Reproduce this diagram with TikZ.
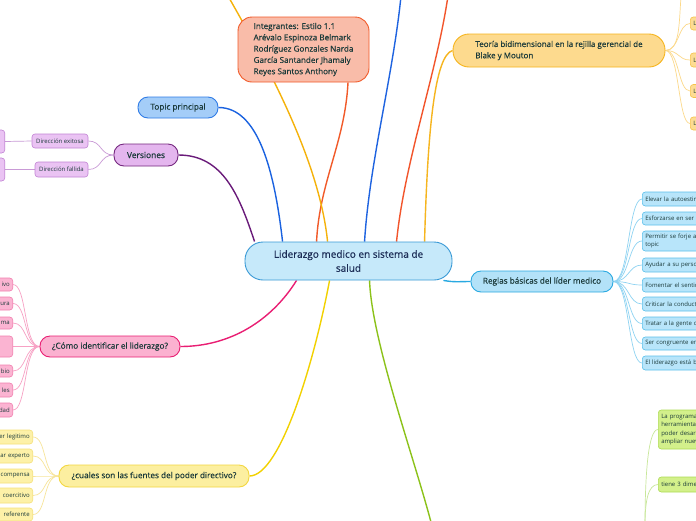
\documentclass[tikz,border=0pt]{standalone}
\usepackage{fontspec}
\setmainfont{Open Sans}
\newfontfamily\semib{Open Sans}[FakeBold=0.5]
\usetikzlibrary{calc,backgrounds}
\definecolor{txt}{HTML}{1B3A3A}
\definecolor{ctxt}{HTML}{1A2B55}
\definecolor{cfill}{HTML}{C6E9FA}
\definecolor{cdraw}{HTML}{3A9AD6}
\definecolor{tfill}{HTML}{A4CDF8}
\definecolor{tdraw}{HTML}{2F7BE6}
\definecolor{tline}{HTML}{1A62E0}
\definecolor{vfill}{HTML}{E4B6EE}
\definecolor{vdraw}{HTML}{75287F}
\definecolor{vline}{HTML}{6A1B7A}
\definecolor{vsfill}{HTML}{EAC3F3}
\definecolor{vsdraw}{HTML}{C283D4}
\definecolor{vsline}{HTML}{C99AD6}
\definecolor{ifill}{HTML}{F9BCA9}
\definecolor{idraw}{HTML}{F15A29}
\definecolor{ofill}{HTML}{FDDA8E}
\definecolor{odraw}{HTML}{F6B51E}
\definecolor{osfill}{HTML}{FDDC93}
\definecolor{osdraw}{HTML}{F6C34A}
\definecolor{osline}{HTML}{FCD98A}
\definecolor{rfill}{HTML}{B3E2F8}
\definecolor{rdraw}{HTML}{29A9E1}
\definecolor{rsfill}{HTML}{B8E5FA}
\definecolor{rsdraw}{HTML}{5BC0EB}
\definecolor{rsline}{HTML}{8ED3F2}
\definecolor{pfill}{HTML}{FBB1D0}
\definecolor{pdraw}{HTML}{E91E73}
\definecolor{psfill}{HTML}{FBB4D2}
\definecolor{psdraw}{HTML}{F27FAF}
\definecolor{psline}{HTML}{F7A1C4}
\definecolor{yfill}{HTML}{FCEFA0}
\definecolor{ydraw}{HTML}{F3D740}
\definecolor{yline}{HTML}{F2D100}
\definecolor{ysfill}{HTML}{FDF1A8}
\definecolor{ysdraw}{HTML}{F5E07A}
\definecolor{ysline}{HTML}{F7E59A}
\definecolor{gline}{HTML}{8CC21A}
\definecolor{gsfill}{HTML}{D3F08B}
\definecolor{gsdraw}{HTML}{AEDC55}
\definecolor{gsline}{HTML}{C8E79A}
\definecolor{topyel}{HTML}{F5B20A}
\definecolor{topblue}{HTML}{1E63E0}
\definecolor{topred}{HTML}{F2552C}
\tikzset{
  mainbox/.style={draw, line width=0.9pt, text=txt, inner sep=0pt, rounded corners=10pt,
    font=\semib\fontsize{8.2}{10}\selectfont},
  subbox/.style={draw, line width=0.6pt, text=txt, inner sep=0pt, rounded corners=3pt,
    font=\fontsize{6}{7.4}\selectfont},
  branch/.style={line width=1.4pt},
  twig/.style={line width=0.7pt},
  leftsub/.style={subbox, anchor=east, minimum width=60pt, text width=54pt, align=right},
  rightsub/.style={subbox, anchor=west, minimum width=90pt, text width=84pt, align=left},
}
\begin{document}
\begin{tikzpicture}[x=1pt,y=-1pt]
\useasboundingbox (0,0) rectangle (696,520);
\clip (0,0) rectangle (696,520);

% ---------- nodes ----------
\node[mainbox, fill=cfill, draw=cdraw, text=ctxt, minimum width=207pt, minimum height=38pt,
  rounded corners=18pt, align=center, font=\semib\fontsize{10}{14}\selectfont]
  (c) at (348.5,261) {Liderazgo medico en sistema de\\salud};

\node[mainbox, fill=tfill, draw=tdraw, minimum width=80pt, minimum height=21pt] (topic) at (178,107.5) {Topic principal};

\node[mainbox, fill=vfill, draw=vdraw, minimum width=64pt, minimum height=22pt, font=\semib\fontsize{8.4}{10}\selectfont] (ver) at (146,155) {Versiones};
\node[subbox, fill=vsfill, draw=vsdraw, minimum width=56pt, minimum height=14pt] (vs1) at (60,141) {Dirección exitosa};
\node[subbox, fill=vsfill, draw=vsdraw, minimum width=53pt, minimum height=15pt] (vs2) at (61.5,169.5) {Dirección fallida};
\node[leftsub, fill=vsfill, draw=vsdraw, minimum width=40pt, minimum height=23pt] (vl1) at (5,141.5) {};
\node[leftsub, fill=vsfill, draw=vsdraw, minimum width=40pt, minimum height=23pt] (vl2) at (5,169.5) {};

\node[mainbox, fill=ifill, draw=idraw, minimum width=131pt, minimum height=65pt, rounded corners=14pt,
  align=left, font=\semib\fontsize{8.1}{11.3}\selectfont] (integ) at (303.5,49.5)
  {Integrantes: Estilo 1.1\\Arévalo Espinoza Belmark\\Rodríguez Gonzales Narda\\García Santander Jhamaly\\Reyes Santos Anthony};

\node[mainbox, fill=ofill, draw=odraw, minimum width=212pt, minimum height=33pt, rounded corners=16pt,
  align=left, font=\semib\fontsize{8}{11.3}\selectfont] (teo) at (559,50.5)
  {Teoría bidimensional en la rejilla gerencial de\\Blake y Mouton};
\node[rightsub, fill=osfill, draw=osdraw, minimum height=13pt] (t1) at (690,23.5) {L};
\node[rightsub, fill=osfill, draw=osdraw, minimum height=14pt] (t2) at (690,60) {L};
\node[rightsub, fill=osfill, draw=osdraw, minimum height=13pt] (t3) at (690,91) {L};
\node[rightsub, fill=osfill, draw=osdraw, minimum height=13pt] (t4) at (690,123.5) {L};

\node[mainbox, fill=rfill, draw=rdraw, minimum width=142pt, minimum height=21pt] (reg) at (542,281.5) {Reglas básicas del líder medico};
\node[rightsub, fill=rsfill, draw=rsdraw, minimum height=14pt] (r1) at (642,199) {Elevar la autoestima};
\node[rightsub, fill=rsfill, draw=rsdraw, minimum height=13pt] (r2) at (642,218.5) {Esforzarse en ser};
\node[rightsub, fill=rsfill, draw=rsdraw, minimum height=20pt] (r3) at (642,241) {Permitir se forje a\\topic};
\node[rightsub, fill=rsfill, draw=rsdraw, minimum height=14pt] (r4) at (642,265) {Ayudar a su personal};
\node[rightsub, fill=rsfill, draw=rsdraw, minimum height=14pt] (r5) at (642,285) {Fomentar el sentido};
\node[rightsub, fill=rsfill, draw=rsdraw, minimum height=14pt] (r6) at (642,304) {Criticar la conducta};
\node[rightsub, fill=rsfill, draw=rsdraw, minimum height=13pt] (r7) at (642,323.5) {Tratar a la gente con};
\node[rightsub, fill=rsfill, draw=rsdraw, minimum height=13pt] (r8) at (642,343.5) {Ser congruente en};
\node[rightsub, fill=rsfill, draw=rsdraw, minimum height=14pt] (r9) at (642,363) {El liderazgo está basado};

\node[mainbox, fill=pfill, draw=pdraw, minimum width=140pt, minimum height=21pt] (como) at (110,346.5) {¿Cómo identificar el liderazgo?};
\node[leftsub, fill=psfill, draw=psdraw, minimum height=13pt] (p1) at (13,284.5) {ivo};
\node[leftsub, fill=psfill, draw=psdraw, minimum height=13pt] (p2) at (13,303.5) {ura};
\node[leftsub, fill=psfill, draw=psdraw, minimum height=12pt] (p3) at (13,323) {ma};
\node[leftsub, fill=psfill, draw=psdraw, minimum height=21pt] (p4) at (13,346.5) {};
\node[leftsub, fill=psfill, draw=psdraw, minimum height=12pt] (p5) at (13,371) {bio};
\node[leftsub, fill=psfill, draw=psdraw, minimum height=14pt] (p6) at (13,390) {les};
\node[leftsub, fill=psfill, draw=psdraw, minimum height=14pt] (p7) at (13,410) {dad};

\node[mainbox, fill=yfill, draw=ydraw, minimum width=190pt, minimum height=22pt] (fue) at (154,476) {¿cuales son las fuentes del poder directivo?};
\node[leftsub, fill=ysfill, draw=ysdraw, minimum height=14pt] (y1) at (33,437) {er legitimo};
\node[leftsub, fill=ysfill, draw=ysdraw, minimum height=14pt] (y2) at (33,456) {ar experto};
\node[leftsub, fill=ysfill, draw=ysdraw, minimum height=14pt] (y3) at (33,476) {compensa};
\node[leftsub, fill=ysfill, draw=ysdraw, minimum height=15pt] (y4) at (33,495.5) {coercitivo};
\node[leftsub, fill=ysfill, draw=ysdraw, minimum height=13pt] (y5) at (33,514.5) {referente};

\node[rightsub, fill=gsfill, draw=gsdraw, minimum height=39pt, font=\fontsize{6}{8.4}\selectfont] (g1) at (658,429.5) {La programación\\herramienta\\poder desarrollar\\ampliar nuevas};
\node[rightsub, fill=gsfill, draw=gsdraw, minimum height=15pt] (g2) at (658,484.5) {tiene 3 dimensiones};

% free ends
\coordinate (yt) at (228,-4);
\coordinate (bt) at (401,-4);
\coordinate (rt) at (448,-4);
\coordinate (tt) at (681,-4);
\coordinate (gb) at (432,526);
\coordinate (gr) at (645,526);

\begin{pgfonlayer}{background}
\fill[white] (0,0) rectangle (696,520);
% ---------- main branches ----------
\draw[branch, tline] (topic.east) .. controls +(40,0) and +(-8,-70) .. ([xshift=38pt]c.north west);
\draw[branch, vline] (ver.east) .. controls +(45,0) and +(-15,-45) .. ([xshift=10pt]c.north west);
\draw[branch, idraw] ([xshift=44.5pt]integ.south) .. controls +(-3,60) and +(3,-60) .. ([xshift=72pt]c.north west);
\draw[branch, topyel] (yt) .. controls +(40,70) and +(-8,-80) .. ([xshift=83pt]c.north west);
\draw[branch, topblue] (bt) .. controls +(-8,80) and +(5,-80) .. ([xshift=120pt]c.north west);
\draw[branch, topred] (rt) .. controls +(-12,80) and +(8,-80) .. ([xshift=152pt]c.north west);
\draw[branch, odraw] (teo.west) .. controls +(-18,5) and +(3,-110) .. ([xshift=180pt]c.north west);
\draw[branch, rdraw] ([xshift=-9pt]c.south east) .. controls +(12,2) and +(-12,0) .. (reg.west);
\draw[branch, pdraw] ([xshift=52pt]c.south west) .. controls +(-25,40) and +(50,0) .. (como.east);
\draw[branch, yline] ([xshift=85pt]c.south west) .. controls +(-15,80) and +(31,0) .. (fue.east);
\draw[branch, gline] ([xshift=125pt]c.south west) .. controls +(2,60) and +(-17,-66) .. (gb);

% ---------- twigs ----------
\foreach \n in {vs1,vs2}
  \draw[twig, vsline] (ver.west) .. controls +(-14,0) and +(14,0) .. (\n.east);
\draw[twig, vsline] (vs1.west) -- (vl1.east);
\draw[twig, vsline] (vs2.west) -- (vl2.east);

\foreach \n in {t1,t2,t3,t4}
  \draw[twig, osline] (teo.east) .. controls +(14,0) and +(-12,0) .. (\n.west);
\draw[twig, osline] (teo.east) .. controls +(14,0) and +(-2,30) .. (tt);

\foreach \n in {r1,r2,r3,r4,r5,r6,r7,r8,r9}
  \draw[twig, rsline] (reg.east) .. controls +(16,0) and +(-14,0) .. (\n.west);

\foreach \n in {p1,p2,p3,p4,p5,p6,p7}
  \draw[twig, psline] (como.west) .. controls +(-16,0) and +(14,0) .. (\n.east);

\foreach \n in {y1,y2,y3,y4,y5}
  \draw[twig, ysline] (fue.west) .. controls +(-16,0) and +(14,0) .. (\n.east);

\draw[twig, gsline] (gr) .. controls +(0,-50) and +(-10,0) .. (g1.west);
\draw[twig, gsline] (gr) .. controls +(0,-25) and +(-10,0) .. (g2.west);
\end{pgfonlayer}
\end{tikzpicture}
\end{document}
